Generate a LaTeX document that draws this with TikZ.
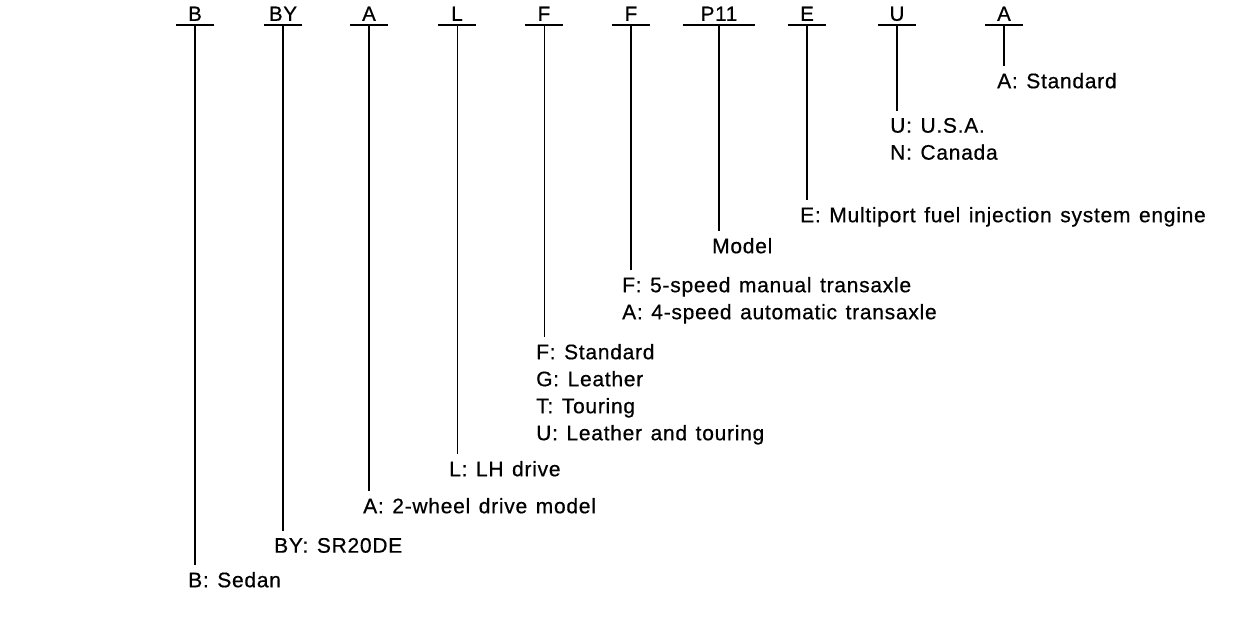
\documentclass[tikz,border=0pt]{standalone}
\usepackage{fontspec}
\setmainfont{Liberation Sans}[LetterSpace=3.5,WordSpace=1.3,FakeBold=0.6]
\usepackage{tikz}

\begin{document}
\begin{tikzpicture}[x=1pt, y=-1pt,
      code/.style={anchor=south, minimum width=38pt, inner xsep=0pt, inner ysep=4pt, text depth=0pt, font=\fontsize{20.5}{20.5}\selectfont},
      desc/.style={anchor=north west, inner sep=0pt, outer ysep=7pt, align=left, font=\fontsize{21}{27}\selectfont},
      bar/.style={line width=1.5pt},
      lead/.style={line width=1.5pt},
      thin/.style={line width=1pt},
      thick/.style={line width=2.2pt}]
      \path[fill=white] (0,0) rectangle (1248,632);
      % code letters over the bars
      \node[code] (cB)  at (195,25)  {B};
      \node[code] (cBY) at (283,25)  {BY};
      \node[code] (cA)  at (369,25)  {A};
      \node[code] (cL)  at (457,25)  {L};
      \node[code] (cF)  at (544,25)  {F};
      \node[code] (cT)  at (631,25)  {F};
      \node[code, minimum width=72pt] (cP) at (719,25) {P11};
      \node[code] (cE)  at (807,25)  {E};
      \node[code] (cU)  at (897,25)  {U};
      \node[code] (cS)  at (1004,25) {A};
      % meanings
      \node[desc] (lB)  at (188,565) {B: Sedan};
      \node[desc] (lBY) at (274,531) {BY: SR20DE};
      \node[desc] (lA)  at (363,491) {A: 2-wheel drive model};
      \node[desc] (lL)  at (449,454) {L: LH drive};
      \node[desc] (lF)  at (536,337) {F: Standard\\G: Leather\\T: Touring\\U: Leather and touring};
      \node[desc] (lT)  at (622,270) {F: 5-speed manual transaxle\\A: 4-speed automatic transaxle};
      \node[desc] (lP)  at (712,231) {Model};
      \node[desc] (lE)  at (800,200) {E: Multiport fuel injection system engine};
      \node[desc] (lU)  at (890,111) {U: U.S.A.\\N: Canada};
      \node[desc] (lS)  at (997,66)  {A: Standard};
      \draw[bar] (cB.south west) -- (cB.south east);   \draw[bar] (cBY.south west) -- (cBY.south east);
      \draw[bar] (cA.south west) -- (cA.south east);   \draw[bar] (cL.south west) -- (cL.south east);
      \draw[bar] (cF.south west) -- (cF.south east);   \draw[bar] (cT.south west) -- (cT.south east);
      \draw[bar] (cP.south west) -- (cP.south east);   \draw[bar] (cE.south west) -- (cE.south east);
      \draw[bar] (cU.south west) -- (cU.south east);   \draw[bar] (cS.south west) -- (cS.south east);
      \draw[thick] (cB.south)  -- (cB.south |- lB.north);
      \draw[thick] (cBY.south) -- (cBY.south |- lBY.north);
      \draw[lead]  (cA.south)  -- (cA.south |- lA.north);
      \draw[thin]  (cL.south)  -- (cL.south |- lL.north);
      \draw[thin]  (cF.south)  -- (cF.south |- lF.north);
      \draw[thick] (cT.south)  -- (cT.south |- lT.north);
      \draw[lead]  (cP.south)  -- (cP.south |- lP.north);
      \draw[thick] (cE.south)  -- (cE.south |- lE.north);
      \draw[lead]  (cU.south)  -- (cU.south |- lU.north);
      \draw[lead]  (cS.south)  -- (cS.south |- lS.north);
    \end{tikzpicture}
\end{document}
